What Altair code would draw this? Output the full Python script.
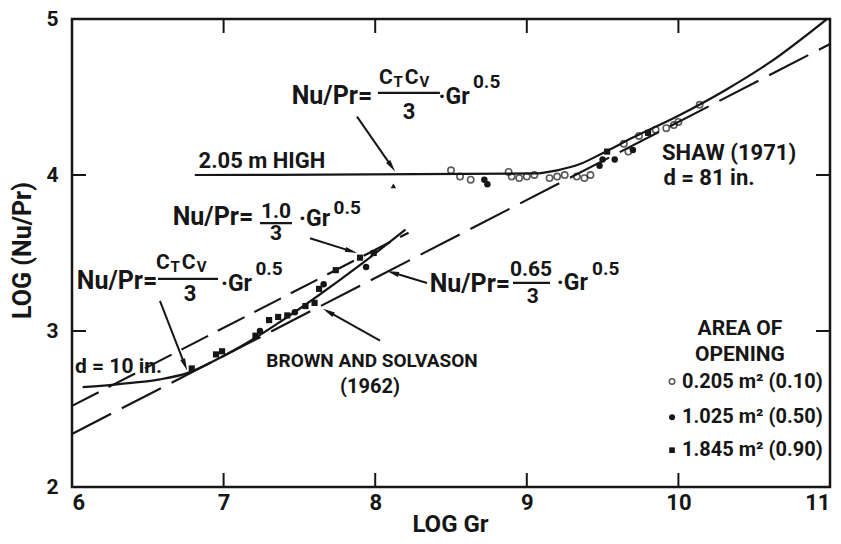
import math
import altair as alt
import pandas as pd

# ---------------- data ----------------
x_label_values = [6, 7, 8, 9, 10, 11]
y_label_values = [2, 3, 4, 5]
inner_x_ticks = [7, 8, 9, 10]
inner_y_ticks = [3, 4]

# Nu/Pr = 1.0/3 Gr^0.5  (dashed)
l10_x = [6.0, 8.22]
l10_y = [2.52, 3.63]
# Nu/Pr = 0.65/3 Gr^0.5 (long dashed)
l065_x = [6.0, 11.0]
l065_y = [2.34, 4.84]
# Brown and Solvason (1962) curve, d = 10 in.
brown_x = [6.07, 6.31, 6.58, 6.76, 7.0, 7.2, 7.36, 7.6, 7.91, 8.2]
brown_y = [2.64, 2.66, 2.69, 2.73, 2.84, 2.95, 3.05, 3.21, 3.43, 3.65]
# Shaw (1971) curve, 2.05 m high, d = 81 in.
shaw_x = [6.81, 9.05, 9.2, 9.35, 9.5, 9.7, 10.0, 10.32, 10.6, 10.98]
shaw_y = [4.0, 4.01, 4.03, 4.07, 4.14, 4.24, 4.38, 4.55, 4.72, 5.0]

# measured points: area of opening
bs_x = [6.79, 6.95, 6.99, 7.21, 7.24, 7.3, 7.36, 7.42, 7.47, 7.54, 7.6, 7.63, 7.66, 7.74, 7.9, 7.94, 7.99]
bs_y = [2.76, 2.85, 2.87, 2.97, 3.0, 3.07, 3.09, 3.1, 3.12, 3.16, 3.18, 3.27, 3.3, 3.39, 3.47, 3.41, 3.5]
bs_t = ["sq", "sq", "sq", "sq", "dot", "sq", "sq", "sq", "dot", "sq", "sq", "sq", "dot", "sq", "sq", "dot", "sq"]

sh_x = [8.5, 8.56, 8.63, 8.72, 8.74, 8.88, 8.9, 8.95, 9.0, 9.05, 9.15, 9.2, 9.25, 9.33, 9.38,
        9.42, 9.48, 9.5, 9.53, 9.58, 9.64, 9.67, 9.7, 9.74, 9.8, 9.85, 9.92, 9.97, 10.0, 10.14]
sh_y = [4.03, 3.99, 3.97, 3.97, 3.94, 4.02, 3.99, 3.98, 3.99, 4.0, 3.98, 3.99, 4.0, 3.99, 3.98,
        4.0, 4.06, 4.1, 4.15, 4.1, 4.2, 4.15, 4.16, 4.25, 4.27, 4.29, 4.3, 4.32, 4.34, 4.45]
sh_t = ["open", "open", "open", "dot", "dot", "open", "open", "open", "open", "open", "open", "open", "open", "open", "open",
        "open", "dot", "dot", "sq", "dot", "open", "open", "dot", "open", "sq", "open", "open", "open", "open", "open"]

tri_x = [8.12]
tri_y = [3.93]

# annotation arrows: tail -> head
arrow_tail = [(7.88, 4.374), (7.57, 3.595), (8.342, 3.308), (8.032, 2.938), (6.58, 3.193)]
arrow_head = [(8.131, 4.023), (7.88, 3.50), (8.078, 3.385), (7.656, 3.142), (6.759, 2.747)]

# fraction bars (x1, x2, y)
bars = [(8.018, 8.427, 4.527), (7.24, 7.451, 3.691), (6.567, 6.963, 3.334), (8.909, 9.153, 3.308)]

# texts (text, x, y, fontsize)
texts_center = [
    ("Nu/Pr=", 7.715, 4.508, 25), ("C", 8.071, 4.623, 21), ("T", 8.152, 4.597, 15),
    ("C", 8.24, 4.623, 21), ("V", 8.325, 4.597, 15), ("3", 8.223, 4.406, 22),
    ("·Gr", 8.52, 4.502, 23), ("0.5", 8.735, 4.597, 19),
    ("2.05 m HIGH", 7.253, 4.087, 22),
    ("Nu/Pr=", 6.93, 3.729, 25), ("1.0", 7.346, 3.765, 21), ("3", 7.346, 3.62, 21),
    ("·Gr", 7.60, 3.717, 23), ("0.5", 7.815, 3.79, 19),
    ("Nu/Pr=", 6.297, 3.321, 25), ("C", 6.600, 3.436, 21), ("T", 6.681, 3.41, 15),
    ("C", 6.77, 3.436, 21), ("V", 6.855, 3.41, 15), ("3", 6.778, 3.238, 22),
    ("·Gr", 7.085, 3.302, 23), ("0.5", 7.30, 3.40, 19),
    ("d = 10 in.", 6.307, 2.772, 21),
    ("BROWN AND SOLVASON", 7.979, 2.81, 19), ("(1962)", 7.966, 2.638, 20),
    ("Nu/Pr=", 8.625, 3.302, 25), ("0.65", 9.028, 3.39, 21), ("3", 9.04, 3.22, 21),
    ("·Gr", 9.3, 3.308, 23), ("0.5", 9.52, 3.40, 19),
    ("SHAW (1971)", 10.334, 4.138, 22), ("d = 81 in.", 10.202, 3.978, 22),
    ("AREA OF", 10.406, 3.015, 21), ("OPENING", 10.406, 2.849, 21),
]
legend_labels = ["0.205 m² (0.10)", "1.025 m² (0.50)", "1.845 m² (0.90)"]
legend_types = ["open", "dot", "sq"]
legend_y = [2.676, 2.447, 2.236]
legend_marker_x = 9.958
legend_text_x = 10.024

# ---------------- chart ----------------
W, H = 758, 468
XD, YD = [6, 11], [2, 5]
INK = "#161616"
FONT = "Roboto"

xs = alt.Scale(domain=XD, nice=False, zero=False)
ys = alt.Scale(domain=YD, nice=False, zero=False)

AXX = alt.Axis(values=x_label_values, format="d", domain=False, ticks=False, grid=False,
               labelFont=FONT, labelFontSize=22, labelColor=INK, labelPadding=5,
               labelFontWeight="bold",
               titleFont=FONT, titleFontSize=24, titleFontWeight="bold", titleColor=INK,
               titleX=378, titleY=37, titleBaseline="middle")
AXY = alt.Axis(values=y_label_values, format="d", domain=False, ticks=False, grid=False,
               labelFont=FONT, labelFontSize=21, labelColor=INK, labelPadding=14,
               labelFontWeight="bold",
               titleFont=FONT, titleFontSize=25, titleFontWeight="bold", titleColor=INK,
               titleX=-50, titleY=231, titleAngle=270, titleBaseline="middle")
XT, YT = "LOG Gr", "LOG (Nu/Pr)"


def X(f="x"):
    return alt.X(f"{f}:Q", scale=xs, axis=AXX, title=XT)


def Y(f="y"):
    return alt.Y(f"{f}:Q", scale=ys, axis=AXY, title=YT)


# base layer carrying the axes
axis_df = pd.DataFrame({"x": [6, 11], "y": [2, 5]})
base = alt.Chart(axis_df).mark_point(opacity=0).encode(x=X(), y=Y())

# inward ticks
TL = 14
bt = alt.Chart(pd.DataFrame({"x": inner_x_ticks})).mark_rule(color=INK, strokeWidth=2).encode(
    x=X(), y=alt.value(H), y2=alt.value(H - TL))
tt = alt.Chart(pd.DataFrame({"x": inner_x_ticks})).mark_rule(color=INK, strokeWidth=2).encode(
    x=X(), y=alt.value(0), y2=alt.value(TL))
lt = alt.Chart(pd.DataFrame({"y": inner_y_ticks})).mark_rule(color=INK, strokeWidth=2).encode(
    y=Y(), x=alt.value(0), x2=alt.value(TL))
rt = alt.Chart(pd.DataFrame({"y": inner_y_ticks})).mark_rule(color=INK, strokeWidth=2).encode(
    y=Y(), x=alt.value(W), x2=alt.value(W - TL))


def line_layer(xv, yv, dash=None, width=2.2):
    df = pd.DataFrame({"x": xv, "y": yv, "o": list(range(len(xv)))})
    kw = dict(color=INK, strokeWidth=width, clip=True)
    if dash:
        kw["strokeDash"] = dash
    interp = "monotone" if len(xv) > 2 else "linear"
    return alt.Chart(df).mark_line(interpolate=interp, **kw).encode(x=X(), y=Y(), order="o:Q")


l10 = line_layer(l10_x, l10_y, dash=[30, 11])
l065 = line_layer(l065_x, l065_y, dash=[44, 12])
lbrown = line_layer(brown_x, brown_y)
lshaw = line_layer(shaw_x, shaw_y)

pts = pd.DataFrame({"x": bs_x + sh_x, "y": bs_y + sh_y, "t": bs_t + sh_t})
p_open = alt.Chart(pts[pts.t == "open"]).mark_point(shape="circle", filled=False, color=INK,
                                                    strokeWidth=1.6, size=40).encode(x=X(), y=Y())
p_dot = alt.Chart(pts[pts.t == "dot"]).mark_point(shape="circle", filled=True, color=INK,
                                                  size=42, opacity=1).encode(x=X(), y=Y())
p_sq = alt.Chart(pts[pts.t == "sq"]).mark_point(shape="square", filled=True, color=INK,
                                                size=38, opacity=1).encode(x=X(), y=Y())
p_tri = alt.Chart(pd.DataFrame({"x": tri_x, "y": tri_y})).mark_point(
    shape="triangle-up", filled=True, color=INK, size=30, opacity=1).encode(x=X(), y=Y())

# arrows
sx = W / (XD[1] - XD[0])
sy = H / (YD[1] - YD[0])
arows = []
for (tx, ty), (hx, hy) in zip(arrow_tail, arrow_head):
    dxp = (hx - tx) * sx
    dyp = -(hy - ty) * sy
    L = math.hypot(dxp, dyp)
    ux, uy = dxp / L, dyp / L
    ang = math.degrees(math.atan2(ux, -uy)) % 360
    arows.append(dict(x=tx, y=ty,
                      lx=hx - ux * 8 / sx, ly=hy + uy * 8 / sy,
                      cx=hx - ux * 6 / sx, cy=hy + uy * 6 / sy, ang=ang))
adf = pd.DataFrame(arows)
a_lines = alt.Chart(adf).mark_rule(color=INK, strokeWidth=2).encode(
    x=X(), y=Y(), x2="lx:Q", y2="ly:Q")
a_heads = alt.Chart(adf).mark_point(filled=True, color=INK, opacity=1,
                                    shape="M0,-1L0.42,1L-0.42,1Z", size=150).encode(
    x=X("cx"), y=Y("cy"), angle=alt.Angle("ang:Q", scale=None))

# fraction bars
bdf = pd.DataFrame(bars, columns=["x", "x2", "y"])
b_rules = alt.Chart(bdf).mark_rule(color=INK, strokeWidth=2.2).encode(
    x=X(), x2="x2:Q", y=Y())

tdf = pd.DataFrame(texts_center, columns=["text", "x", "y", "fs"])
t_center = alt.Chart(tdf).mark_text(font=FONT, fontWeight="bold", color=INK, align="center",
                                     baseline="middle").encode(
    x=X(), y=Y(), text="text:N", size=alt.Size("fs:Q", scale=None, legend=None))

ldf = pd.DataFrame({"text": legend_labels, "t": legend_types, "y": legend_y,
                    "xt": [legend_text_x] * 3, "xm": [legend_marker_x] * 3})
t_leg = alt.Chart(ldf).mark_text(font=FONT, fontWeight="bold", color=INK, align="left",
                                  baseline="middle", fontSize=20).encode(
    x=X("xt"), y=Y(), text="text:N")
lm_open = alt.Chart(ldf[ldf.t == "open"]).mark_point(shape="circle", filled=False, color=INK,
                                                      strokeWidth=1.6, size=30).encode(
    x=X("xm"), y=Y())
lm_dot = alt.Chart(ldf[ldf.t == "dot"]).mark_point(shape="circle", filled=True, color=INK,
                                                    size=36, opacity=1).encode(
    x=X("xm"), y=Y())
lm_sq = alt.Chart(ldf[ldf.t == "sq"]).mark_point(shape="square", filled=True, color=INK,
                                                  size=32, opacity=1).encode(
    x=X("xm"), y=Y())

chart = alt.layer(
    base, bt, tt, lt, rt, l10, l065, lbrown, lshaw,
    p_open, p_dot, p_sq, p_tri, a_lines, a_heads, b_rules, t_center, t_leg,
    lm_open, lm_dot, lm_sq,
).properties(
    width=W, height=H,
    autosize=alt.AutoSizeParams(type="none"),
    padding={"left": 64, "top": 11, "right": 3, "bottom": 49},
    background="white",
).configure_view(stroke=INK, strokeWidth=2.5)

chart.save("out.html", embed_options={"renderer": "svg", "actions": False})
